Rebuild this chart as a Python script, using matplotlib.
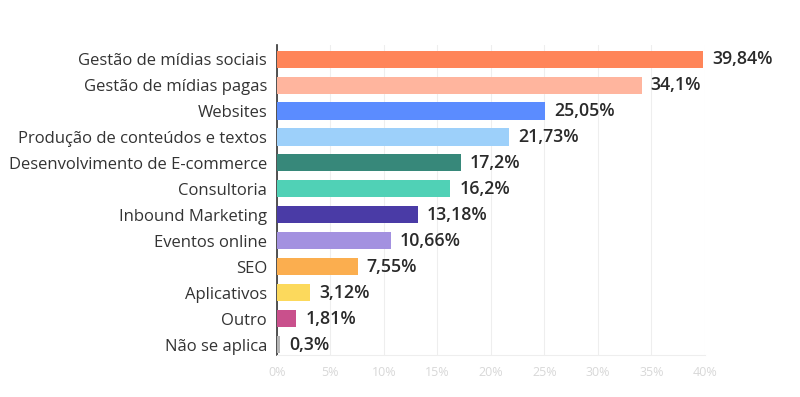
import matplotlib
matplotlib.use("Agg")
import matplotlib.pyplot as plt

categories = ["Gestão de mídias sociais", "Gestão de mídias pagas", "Websites",
              "Produção de conteúdos e textos", "Desenvolvimento de E-commerce",
              "Consultoria", "Inbound Marketing", "Eventos online", "SEO",
              "Aplicativos", "Outro", "Não se aplica"]
values = [39.84, 34.1, 25.05, 21.73, 17.2, 16.2, 13.18, 10.66, 7.55, 3.12, 1.81, 0.3]
value_labels = ["39,84%", "34,1%", "25,05%", "21,73%", "17,2%", "16,2%", "13,18%",
                "10,66%", "7,55%", "3,12%", "1,81%", "0,3%"]
colors = ["#FF8559", "#FFB59E", "#5B8CFF", "#9DD0FA", "#37887A", "#50D1B6",
          "#4A3BA6", "#A391E0", "#FBAE4F", "#FCD95C", "#C9508C", "#B5B5B5"]
xticks = [0, 5, 10, 15, 20, 25, 30, 35, 40]
xtick_labels = ["0%", "5%", "10%", "15%", "20%", "25%", "30%", "35%", "40%"]

plt.rcParams['font.family'] = ['Open Sans', 'DejaVu Sans']

fig = plt.figure(figsize=(8, 3.97), dpi=100)
ax = fig.add_axes([0.346, 0.106, 0.535, 0.781])

y = list(range(len(categories)))
ax.barh(y, values, height=0.66, color=colors, zorder=3)
for yi, v, lab in zip(y, values, value_labels):
    ax.text(v + 0.85, yi, lab, va='center', ha='left', fontsize=12.8,
            fontweight='semibold', color='#2a2a2a')

ax.set_xlim(0, 40)
ax.set_ylim(11.4, -0.55)
ax.set_yticks(y)
ax.set_yticklabels(categories, fontsize=12, color='#333333')
ax.set_xticks(xticks)
ax.set_xticklabels(xtick_labels, fontsize=9, color='#d8d8d8')
ax.tick_params(axis='y', length=0, pad=7)
ax.tick_params(axis='x', length=0, pad=8)
ax.grid(axis='x', color='#eeeeee', linewidth=0.8, zorder=0)
for s in ['top', 'right']:
    ax.spines[s].set_visible(False)
ax.spines['bottom'].set_color('#eeeeee')
ax.spines['left'].set_color('#333333')
ax.spines['left'].set_linewidth(1.2)

fig.savefig("out.png", dpi=100)
